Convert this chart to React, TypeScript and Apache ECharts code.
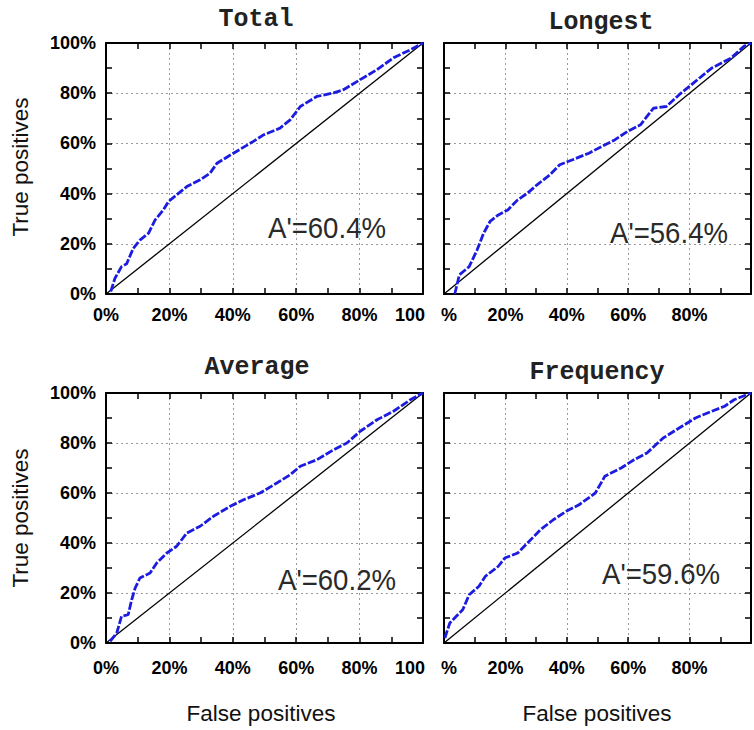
import React, { useEffect, useRef } from "react";
import * as echarts from "echarts";

// ---- Data ----
const PANEL_TITLES = ["Total", "Longest", "Average", "Frequency"];
const AREA_LABELS = ["A'=60.4%", "A'=56.4%", "A'=60.2%", "A'=59.6%"];
const X_NAME = "False positives";
const Y_NAME = "True positives";

const totalFP = [1.5, 2.8, 4.9, 6.5, 8.6, 10.7, 13.4, 15.5, 18.1, 19.7, 22.3, 25.5, 29.7, 32.8, 35, 40.2, 46.5, 49.7, 54.9, 58.1, 61.3, 66.5, 71.8, 74.9, 80.2, 85.5, 90.7, 96, 100];
const totalTP = [1, 6.2, 10.9, 12, 18.2, 21.5, 24.2, 29.5, 33.5, 36.8, 39.5, 42.8, 45.5, 48.1, 52.1, 56.1, 60.8, 63.4, 66.1, 69.4, 74.7, 78.7, 80.1, 81.4, 85.4, 89.4, 94.1, 97.3, 100];

const longestFP = [3.5, 5, 8.2, 10.8, 12.9, 15, 17.7, 20.8, 24, 27.2, 30.3, 34.5, 37.7, 41.9, 47.2, 51.4, 55.6, 59.8, 64, 68.2, 72.4, 76.6, 81.9, 87.2, 93.5, 97.7, 100];
const longestTP = [0, 7.6, 10.9, 17.6, 24.2, 28.9, 31.5, 33.5, 37.5, 40.2, 43.5, 47.5, 51.5, 53.5, 56.1, 58.8, 61.4, 64.8, 67.4, 74, 74.7, 79.4, 84.7, 90, 94, 98.7, 100];

const averageFP = [1.3, 3.4, 4.9, 7, 8.1, 9.2, 10.7, 13.9, 16, 19.2, 22.3, 25.5, 29.7, 33.9, 39.2, 43.4, 48.6, 53.9, 58.1, 61.3, 66.5, 71.8, 76, 80.2, 85.5, 90.7, 96, 100];
const averageTP = [0.7, 4, 10.7, 11.3, 17.3, 22, 26, 28, 32, 36, 38.7, 44, 46.7, 50.7, 54.7, 57.3, 60, 64, 67.3, 70.7, 73.3, 77.3, 80, 84.7, 89.3, 92.7, 97.3, 100];

const frequencyFP = [0.3, 0.8, 1.9, 4, 6.1, 8.2, 11.4, 13.5, 17.7, 19.8, 24, 27.2, 31.4, 35.6, 39.8, 44, 49.3, 52.4, 57.7, 61.9, 66.1, 71.4, 76.6, 81.9, 87.2, 91.4, 94.5, 100];
const frequencyTP = [2, 4, 8, 10.7, 13.3, 19.3, 22.7, 26.7, 30.7, 34, 36, 40, 45.3, 49.3, 52.7, 55.3, 60, 66.7, 70, 73.3, 76, 82, 86, 90, 92.7, 94.7, 97.3, 100];

const DIAG_X = [0, 100];
const DIAG_Y = [0, 100];

const CURVES_FP = [totalFP, longestFP, averageFP, frequencyFP];
const CURVES_TP = [totalTP, longestTP, averageTP, frequencyTP];

// ---- Layout ----
const GRIDS = [
  { left: 106, top: 43, width: 317, height: 251 },
  { left: 444, top: 43, width: 317, height: 251 },
  { left: 106, top: 393, width: 317, height: 250 },
  { left: 444, top: 393, width: 317, height: 250 },
];
const TITLE_POS = [
  [256, 19],
  [601, 22],
  [257, 367],
  [597, 372],
];
const AREA_POS = [
  [268, 228],
  [610, 233],
  [278, 580],
  [602, 574],
];

const LABEL_FONT = "'Liberation Sans', Arial, sans-serif";

export default function App() {
  const ref = useRef<HTMLDivElement>(null);

  useEffect(() => {
    if (!ref.current) return;
    const chart = echarts.init(ref.current, undefined, { renderer: "svg" });

    const xAxes: any[] = [];
    const yAxes: any[] = [];
    const series: any[] = [];
    const graphic: any[] = [];

    const frameLine = { show: true, onZero: false, lineStyle: { color: "#000", width: 2 } };
    const tick = { show: true, inside: true, length: 6, lineStyle: { color: "#000", width: 1.5 } };
    const minor = { show: true, splitNumber: 2, length: 6, lineStyle: { color: "#000", width: 1.5 } };
    const grid = { show: true, lineStyle: { color: "#9a9a9a", width: 1, type: [2, 3] } };

    GRIDS.forEach((g, i) => {
      const isLeft = i % 2 === 0;
      const isTop = i < 2;
      const labelBase = {
        color: "#000",
        fontFamily: LABEL_FONT,
        fontWeight: "bold",
        fontSize: 18,
      };
      xAxes.push({
        type: "value",
        gridIndex: i,
        min: 0,
        max: 100,
        interval: 20,
        position: "bottom",
        axisLine: frameLine,
        axisTick: tick,
        minorTick: minor,
        splitLine: grid,
        axisLabel: {
          ...labelBase,
          margin: isTop ? 12 : 16,
          formatter: (v: number) => {
            if (isLeft) return v === 100 ? "{r|100}" : v + "%";
            if (v === 0) return "{p|%}";
            if (v === 100) return "";
            return v + "%";
          },
          rich: {
            r: { ...labelBase, padding: [0, 26, 0, 0] },
            p: { ...labelBase, padding: [0, 0, 0, 10] },
          },
        },
      });
      xAxes.push({
        type: "value",
        gridIndex: i,
        min: 0,
        max: 100,
        interval: 20,
        position: "top",
        axisLine: frameLine,
        axisTick: tick,
        minorTick: minor,
        splitLine: { show: false },
        axisLabel: { show: false },
      });
      yAxes.push({
        type: "value",
        gridIndex: i,
        min: 0,
        max: 100,
        interval: 20,
        position: "left",
        axisLine: frameLine,
        axisTick: tick,
        minorTick: minor,
        splitLine: grid,
        axisLabel: {
          show: isLeft,
          ...labelBase,
          margin: 10,
          formatter: (v: number) => v + "%",
        },
      });
      yAxes.push({
        type: "value",
        gridIndex: i,
        min: 0,
        max: 100,
        interval: 20,
        position: "right",
        axisLine: frameLine,
        axisTick: tick,
        minorTick: minor,
        splitLine: { show: false },
        axisLabel: { show: false },
      });

      series.push({
        type: "line",
        xAxisIndex: 2 * i,
        yAxisIndex: 2 * i,
        data: DIAG_X.map((x, k) => [x, DIAG_Y[k]]),
        symbol: "none",
        lineStyle: { color: "#000", width: 1.3 },
        z: 3,
      });
      series.push({
        type: "line",
        xAxisIndex: 2 * i,
        yAxisIndex: 2 * i,
        data: CURVES_FP[i].map((x, k) => [x, CURVES_TP[i][k]]),
        symbol: "none",
        lineStyle: { color: "#1c1ce0", width: 2.8, type: [8, 2] },
        z: 4,
      });

      graphic.push({
        type: "text",
        x: TITLE_POS[i][0],
        y: TITLE_POS[i][1],
        style: {
          text: PANEL_TITLES[i],
          align: "center",
          verticalAlign: "middle",
          fontFamily: "'Liberation Mono', 'Courier New', monospace",
          fontSize: 25,
          fontWeight: "bold",
          fill: "#222",
        },
      });
      graphic.push({
        type: "text",
        x: AREA_POS[i][0],
        y: AREA_POS[i][1],
        scaleX: 0.92,
        style: {
          text: AREA_LABELS[i],
          align: "left",
          verticalAlign: "middle",
          fontFamily: LABEL_FONT,
          fontSize: 30,
          fill: "#2a2a2a",
        },
        z: 10,
      });
    });

    // axis names
    [167, 518].forEach((cy) => {
      graphic.push({
        type: "text",
        x: 20,
        y: cy,
        rotation: Math.PI / 2,
        style: {
          text: Y_NAME,
          align: "center",
          verticalAlign: "middle",
          fontFamily: LABEL_FONT,
          fontSize: 22.5,
          fill: "#111",
        },
      });
    });
    [261, 597].forEach((cx) => {
      graphic.push({
        type: "text",
        x: cx,
        y: 713,
        style: {
          text: X_NAME,
          align: "center",
          verticalAlign: "middle",
          fontFamily: LABEL_FONT,
          fontSize: 22.5,
          fill: "#111",
        },
      });
    });

    chart.setOption({
      animation: false,
      backgroundColor: "#fff",
      grid: GRIDS.map((g) => ({ ...g, containLabel: false })),
      xAxis: xAxes,
      yAxis: yAxes,
      series,
      graphic,
    });

    return () => chart.dispose();
  }, []);

  return (
    <div
      ref={ref}
      style={{ position: "absolute", left: 0, top: 0, width: 754, height: 730, overflow: "hidden" }}
    />
  );
}
